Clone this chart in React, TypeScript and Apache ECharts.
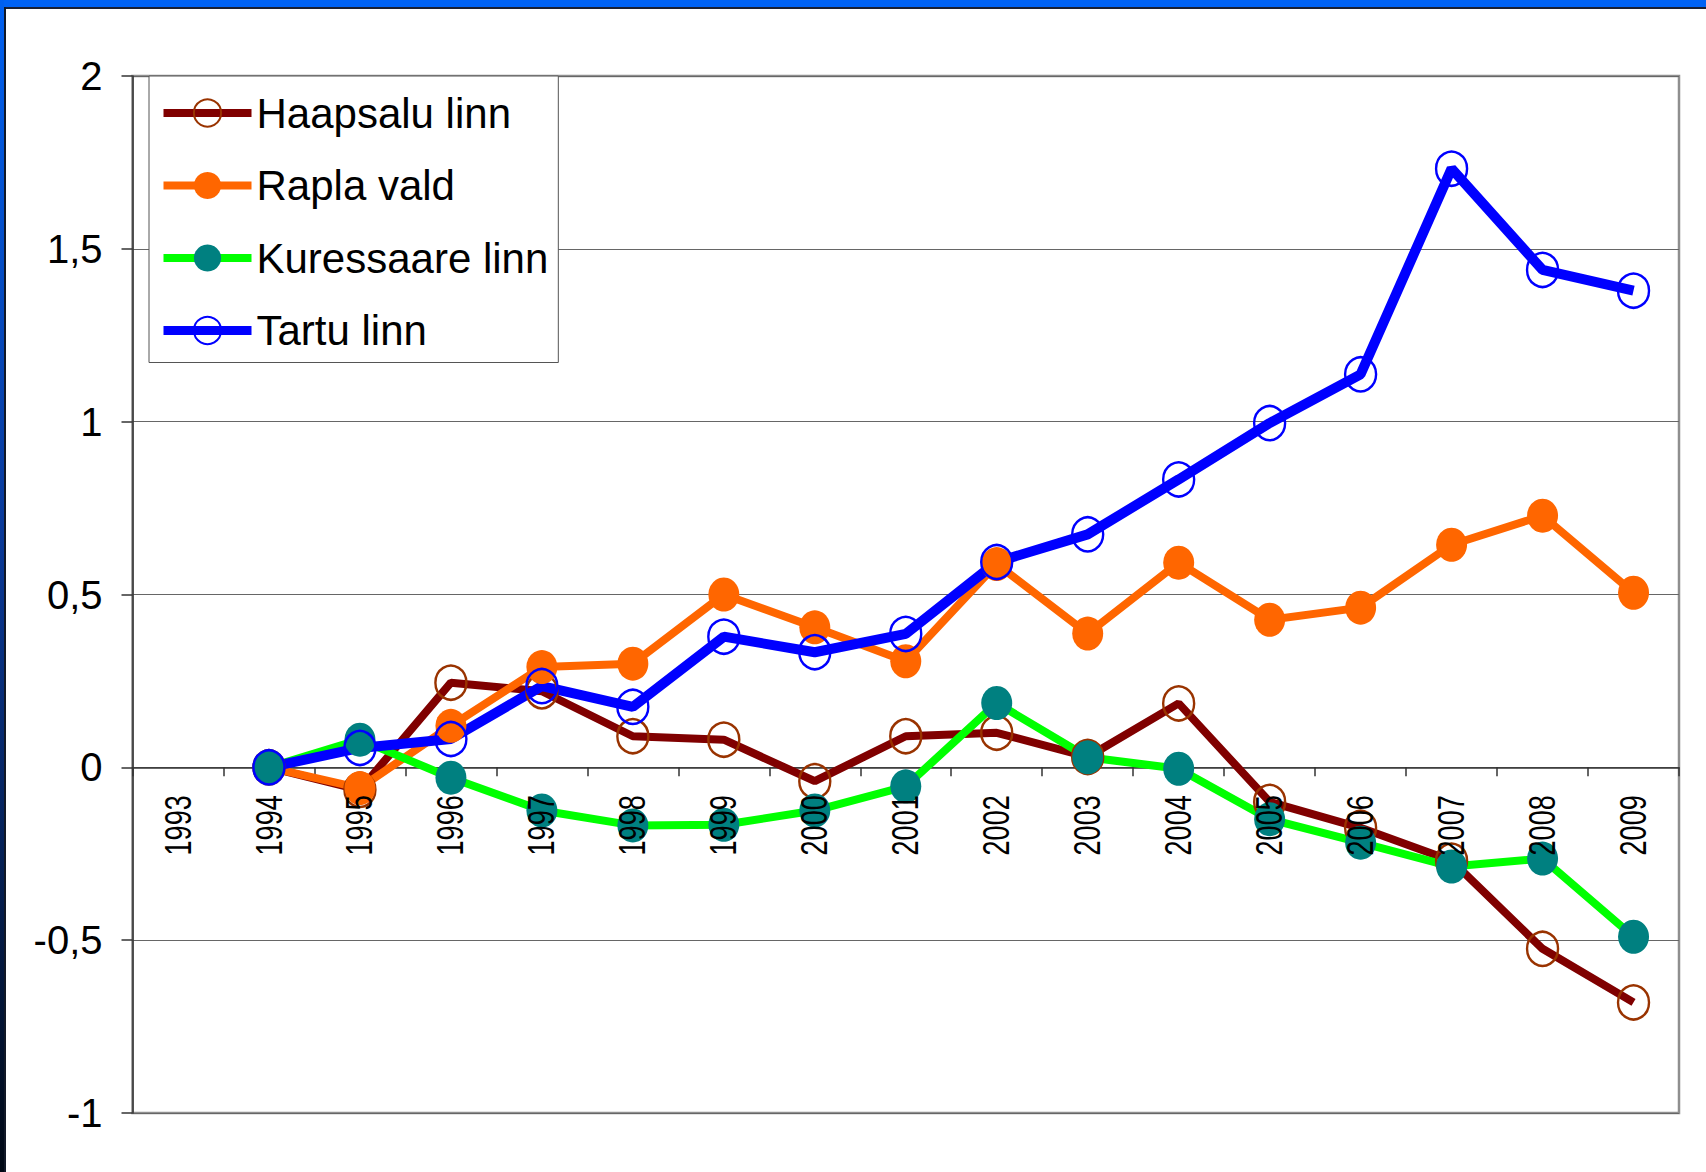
import React, { useEffect, useRef } from "react";
import * as echarts from "echarts";

const years = ["1993","1994","1995","1996","1997","1998","1999","2000","2001","2002","2003","2004","2005","2006","2007","2008","2009"];
const haapsalu = [null, 0, -0.065, 0.245, 0.22, 0.09, 0.08, -0.04, 0.09, 0.1, 0.03, 0.185, -0.1, -0.175, -0.27, -0.525, -0.68];
const rapla = [null, 0, -0.06, 0.12, 0.29, 0.3, 0.5, 0.405, 0.307, 0.588, 0.387, 0.592, 0.427, 0.462, 0.644, 0.728, 0.505];
const kuressaare = [null, 0, 0.08, -0.03, -0.125, -0.168, -0.166, -0.125, -0.055, 0.186, 0.029, -0.004, -0.15, -0.218, -0.287, -0.264, -0.49];
const tartu = [null, 0, 0.056, 0.082, 0.235, 0.175, 0.378, 0.333, 0.386, 0.594, 0.674, 0.833, 0.996, 1.137, 1.732, 1.439, 1.379];
const seriesNames = ["Haapsalu linn", "Rapla vald", "Kuressaare linn", "Tartu linn"];

const FONT = "'Liberation Sans', Arial, sans-serif";

export default function App() {
  const ref = useRef<HTMLDivElement>(null);
  useEffect(() => {
    if (!ref.current) return;
    const chart = echarts.init(ref.current, null, { renderer: "svg" });
    const sym: [number, number] = [31, 34];
    const frame = [
      { type: "rect", shape: { x: 0, y: 0, width: 1706, height: 7 }, style: { fill: "#0062f5" }, z: 100 },
      { type: "rect", shape: { x: 0, y: 7, width: 1706, height: 2 }, style: { fill: "#1a1f33" }, z: 100 },
      {
        type: "rect",
        shape: { x: 0, y: 0, width: 4, height: 1172 },
        style: {
          fill: new echarts.graphic.LinearGradient(0, 0, 0, 1, [
            { offset: 0, color: "#0060f0" },
            { offset: 0.45, color: "#0a3a9a" },
            { offset: 1, color: "#000814" },
          ]),
        },
        z: 100,
      },
      { type: "rect", shape: { x: 4, y: 7, width: 2, height: 1165 }, style: { fill: "#111827" }, z: 100 },
    ];
    chart.setOption({
      animation: false,
      backgroundColor: "#ffffff",
      graphic: frame,
      grid: {
        left: 132.5,
        top: 76,
        right: 27,
        bottom: 59,
        show: true,
        borderColor: "#8f8f8f",
        borderWidth: 2.5,
        backgroundColor: "#ffffff",
        outerBoundsMode: "none",
        containLabel: false,
      },
      legend: {
        orient: "vertical",
        left: 149,
        top: 76,
        padding: [16, 10, 11, 10],
        itemWidth: 88,
        itemHeight: 34,
        itemGap: 30.5,
        itemTextGap: 8,
        selectedMode: false,
        backgroundColor: "#ffffff",
        borderColor: "#555555",
        borderWidth: 1,
        textStyle: { fontFamily: FONT, fontSize: 42, color: "#000000" },
        data: [
          { name: seriesNames[0], lineStyle: { width: 8 } },
          { name: seriesNames[1], lineStyle: { width: 8 } },
          { name: seriesNames[2], lineStyle: { width: 8 } },
          { name: seriesNames[3], lineStyle: { width: 9 } },
        ],
      },
      xAxis: {
        type: "category",
        data: years,
        position: "bottom",
        boundaryGap: true,
        axisLine: { show: true, onZero: true, lineStyle: { color: "#333333", width: 1.5 } },
        axisTick: { show: true, length: 9, lineStyle: { color: "#333333", width: 1.5 } },
        axisLabel: { show: false },
        splitLine: { show: false },
      },
      yAxis: {
        type: "value",
        min: -1,
        max: 2,
        interval: 0.5,
        axisLine: { show: true, onZero: false, lineStyle: { color: "#333333", width: 1.5 } },
        axisTick: { show: true, length: 11, lineStyle: { color: "#333333", width: 1.5 } },
        axisLabel: {
          margin: 30,
          fontFamily: FONT,
          fontSize: 40,
          color: "#000000",
          formatter: (v: number) => String(v).replace(".", ","),
        },
        splitLine: { show: true, lineStyle: { color: "#666666", width: 1 } },
      },
      series: [
        {
          name: seriesNames[0],
          type: "line",
          data: haapsalu,
          symbol: "circle",
          symbolSize: sym,
          lineStyle: { color: "#800000", width: 8 },
          itemStyle: { color: "rgba(0,0,0,0)", borderColor: "#993300", borderWidth: 2.5 },
        },
        {
          name: seriesNames[1],
          type: "line",
          data: rapla,
          symbol: "circle",
          symbolSize: sym,
          lineStyle: { color: "#ff6600", width: 8 },
          itemStyle: { color: "#ff6600", borderWidth: 0 },
        },
        {
          name: seriesNames[2],
          type: "line",
          data: kuressaare,
          symbol: "circle",
          symbolSize: sym,
          lineStyle: { color: "#00ff00", width: 8 },
          itemStyle: { color: "#008080", borderWidth: 0 },
        },
        {
          name: seriesNames[3],
          type: "line",
          data: tartu,
          symbol: "circle",
          symbolSize: sym,
          lineStyle: { color: "#0000ff", width: 10 },
          itemStyle: { color: "rgba(0,0,0,0)", borderColor: "#0000ff", borderWidth: 2.5 },
        },
      ],
    });

    // Year labels: rotated, condensed, drawn above the series, positioned via the chart's own scales
    const zeroY = chart.convertToPixel({ yAxisIndex: 0 }, 0) as number;
    const labels = years.map((yr) => {
      const cx = chart.convertToPixel({ xAxisIndex: 0 }, yr) as number;
      return {
        type: "text",
        x: cx,
        y: zeroY + 28,
        rotation: Math.PI / 2,
        scaleX: 0.73,
        z: 50,
        style: {
          text: yr,
          fontFamily: FONT,
          fontSize: 37,
          fill: "#000000",
          align: "right",
          textAlign: "right",
          verticalAlign: "middle",
          textVerticalAlign: "middle",
        },
      };
    });
    chart.setOption({ graphic: [...frame, ...labels] });

    return () => chart.dispose();
  }, []);
  return (
    <div
      ref={ref}
      style={{ position: "fixed", left: 0, top: 0, width: 1706, height: 1172, background: "#ffffff" }}
    />
  );
}
